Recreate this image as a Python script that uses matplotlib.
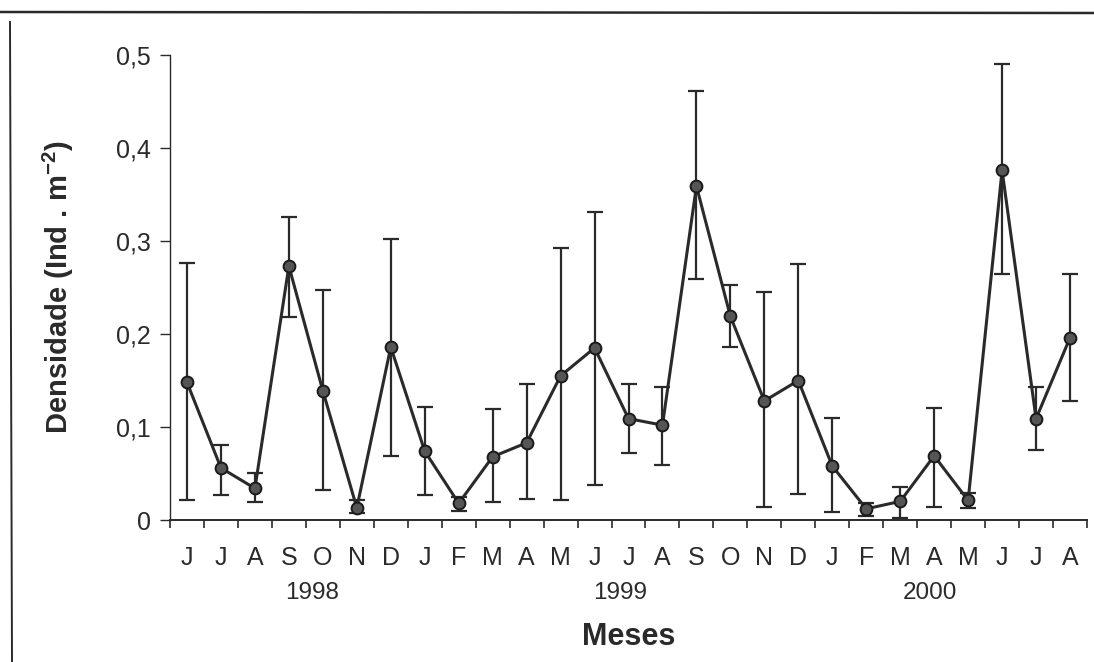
import numpy as np
import matplotlib
matplotlib.use("Agg")
from matplotlib import pyplot as plt
from matplotlib.lines import Line2D
from matplotlib.transforms import blended_transform_factory

# monthly density, June 1998 to August 2000
months = ["J", "J", "A", "S", "O", "N", "D", "J", "F", "M", "A", "M", "J",
          "J", "A", "S", "O", "N", "D", "J", "F", "M", "A", "M", "J", "J", "A"]
density = [0.148, 0.056, 0.034, 0.273, 0.139, 0.013, 0.186, 0.074, 0.018,
           0.068, 0.083, 0.155, 0.185, 0.109, 0.102, 0.359, 0.219, 0.128,
           0.150, 0.058, 0.012, 0.020, 0.069, 0.021, 0.376, 0.109, 0.196]
upper = [0.276, 0.081, 0.051, 0.326, 0.247, 0.022, 0.302, 0.122, 0.025,
         0.119, 0.146, 0.292, 0.331, 0.146, 0.143, 0.461, 0.253, 0.245,
         0.275, 0.110, 0.018, 0.036, 0.120, 0.029, 0.490, 0.143, 0.265]
lower = [0.021, 0.027, 0.019, 0.218, 0.032, 0.007, 0.069, 0.027, 0.010,
         0.019, 0.023, 0.021, 0.038, 0.072, 0.059, 0.259, 0.186, 0.014,
         0.028, 0.009, 0.004, 0.002, 0.014, 0.013, 0.265, 0.075, 0.128]
years = ["1998", "1999", "2000"]
year_pos = [3.67, 12.75, 21.88]

plt.rcParams["font.family"] = ["Liberation Sans", "DejaVu Sans"]
plt.rcParams["mathtext.default"] = "regular"
ink = "#2a2a2a"

fig = plt.figure(figsize=(10.94, 6.62), dpi=100)
ax = fig.add_axes([0.1554, 0.2145, 0.8382, 0.7024])

x = np.arange(len(months))
d = np.array(density)
yerr = [d - np.array(lower), np.array(upper) - d]
ax.errorbar(x, d, yerr=yerr, fmt="none", ecolor=ink, elinewidth=1.6,
            capsize=5.8, capthick=1.6, zorder=2)
ax.plot(x, d, color=ink, lw=2.2, marker="o", ms=8.5,
        mfc="#555555", mec="#1a1a1a", mew=1.4, zorder=3)

ax.set_xlim(-0.5, len(months) - 0.5)
ax.set_ylim(0, 0.5)
ax.set_yticks(np.arange(0, 0.51, 0.1))
ax.set_yticklabels(["0", "0,1", "0,2", "0,3", "0,4", "0,5"])
ax.tick_params(axis="y", direction="out", length=7, width=1, pad=7,
               labelsize=18, colors=ink)

# boundary ticks between months, letters centred on each month
ax.set_xticks(np.arange(-0.5, len(months)), labels=[])
ax.set_xticks(x, labels=months, minor=True)
ax.tick_params(axis="x", which="major", direction="out", length=6, width=1.2,
               colors=ink)
ax.tick_params(axis="x", which="minor", length=0, pad=19, labelsize=18,
               labelcolor=ink)

for s in ["top", "right"]:
    ax.spines[s].set_visible(False)
ax.spines["left"].set_linewidth(1.0)
ax.spines["bottom"].set_linewidth(1.4)
ax.spines["left"].set_color(ink)
ax.spines["bottom"].set_color(ink)

trans = blended_transform_factory(ax.transData, ax.transAxes)
for pos, yr in zip(year_pos, years):
    ax.text(pos, -0.158, yr, transform=trans, ha="center", va="center",
            fontsize=17.5, color=ink)
ax.text(0.5, -0.252, "Meses", transform=ax.transAxes, ha="center",
        va="center", fontsize=22, fontweight="bold", color=ink)

ax.set_ylabel("Densidade (Ind . m$^{-2}$)", fontsize=21, fontweight="bold",
              color=ink)
ax.yaxis.set_label_coords(-0.102, 0.5)

# page frame lines
fig.add_artist(Line2D([0, 1], [1 - 12 / 662, 1 - 13 / 662],
                      transform=fig.transFigure, color=ink, lw=1.8))
fig.add_artist(Line2D([10 / 1094, 12 / 1094], [1 - 22 / 662, 0],
                      transform=fig.transFigure, color=ink, lw=1.4))

fig.savefig("out.png", dpi=100)
